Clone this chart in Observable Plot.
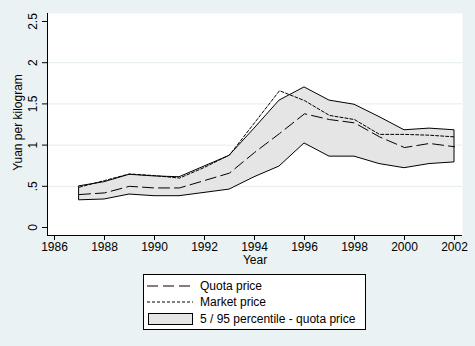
<!DOCTYPE html>
<html><head><meta charset="utf-8">
<script src="https://cdn.jsdelivr.net/npm/d3@7"></script>
<script src="https://cdn.jsdelivr.net/npm/@observablehq/plot@0.6"></script>
<style>
html,body{margin:0;padding:0;background:#EAF2F3;}
body{font-family:"Liberation Sans",Arial,sans-serif;}
#wrap{position:relative;width:475px;height:346px;overflow:hidden;background:#EAF2F3;}
#legend{position:absolute;left:143px;top:274px;}
</style>
</head><body>
<div id="wrap"><div id="chart"></div><div id="legend"></div></div>
<script>
const years  = [1987,1988,1989,1990,1991,1992,1993,1994,1995,1996,1997,1998,1999,2000,2001,2002];
const quota  = [0.40,0.42,0.50,0.48,0.48,0.57,0.66,0.91,1.14,1.38,1.31,1.27,1.10,0.97,1.02,0.98];
const market = [0.49,0.57,0.65,0.63,0.60,0.73,0.88,1.27,1.66,1.54,1.36,1.31,1.13,1.13,1.12,1.10];
const p95    = [0.50,0.55,0.64,0.62,0.61,0.74,0.87,1.20,1.54,1.70,1.54,1.49,1.34,1.18,1.20,1.18];
const p5     = [0.33,0.34,0.40,0.38,0.38,0.42,0.46,0.61,0.74,1.02,0.86,0.86,0.77,0.72,0.77,0.79];
const xTicks = [1986,1988,1990,1992,1994,1996,1998,2000,2002];
const yTicks = [0,0.5,1,1.5,2,2.5];
const yTickLabels = ["0",".5","1","1.5","2","2.5"];
const gridVals = [0.5,1,1.5,2];
const legendLabels = ["Quota price","Market price","5 / 95 percentile - quota price"];
const xTitle = "Year";
const yTitle = "Yuan per kilogram";

const data = years.map((y,i)=>({year:y, quota:quota[i], market:market[i], lo:p5[i], hi:p95[i]}));
const xDom = [1985.72, 2002.32];
const yDom = [-0.097, 2.597];
const font = "'Liberation Sans', Arial, sans-serif";

const chart = Plot.plot({
  width:475, height:270,
  marginLeft:47, marginRight:13, marginTop:13, marginBottom:35,
  style:{background:"transparent", fontFamily:font, fontSize:"12px", color:"black"},
  x:{type:"linear", domain:xDom, axis:null},
  y:{type:"linear", domain:yDom, axis:null},
  marks:[
    Plot.frame({fill:"white", stroke:"none"}),
    Plot.ruleY(gridVals, {y:d=>d, stroke:"#E3EDF0", strokeWidth:1}),
    Plot.areaY(data, {x:"year", y1:"lo", y2:"hi", fill:"#E5E5E5", stroke:"black", strokeWidth:1}),
    Plot.lineY(data, {x:"year", y:"quota", stroke:"black", strokeWidth:1, strokeDasharray:"11,5"}),
    Plot.lineY(data, {x:"year", y:"market", stroke:"black", strokeWidth:1, strokeDasharray:"3,2"}),
    Plot.ruleX([xDom[0]], {x:d=>d, stroke:"black"}),
    Plot.ruleY([yDom[0]], {y:d=>d, stroke:"black"}),
    Plot.axisX({ticks:xTicks, tickFormat:"d", tickSize:5, tickPadding:2, label:null, anchor:"bottom", fontSize:12}),
    Plot.axisY({ticks:yTicks, tickSize:5, label:null, anchor:"left", text:null}),
    Plot.text(yTicks, {x:xDom[0], y:d=>d, text:(d,i)=>yTickLabels[i], rotate:-90, dx:-14, textAnchor:"middle", lineAnchor:"middle", fontSize:12}),
    Plot.text([yTitle], {frameAnchor:"left", dx:-29, dy:-2, rotate:-90, textAnchor:"middle", lineAnchor:"middle", fontSize:12}),
    Plot.text([xTitle], {frameAnchor:"bottom", dy:20, lineAnchor:"top", textAnchor:"middle", fontSize:12})
  ]
});
document.getElementById("chart").appendChild(chart);

// legend
const lg = d3.select("#legend").append("svg").attr("width",223).attr("height",56)
  .style("font-family", font).style("font-size","12px");
lg.append("rect").attr("x",0.5).attr("y",0.5).attr("width",222).attr("height",55)
  .attr("fill","white").attr("stroke","black");
const rowsY = [12, 28, 45];
lg.append("line").attr("x1",4).attr("x2",50).attr("y1",rowsY[0]).attr("y2",rowsY[0])
  .attr("stroke","black").attr("stroke-dasharray","11,5");
lg.append("line").attr("x1",4).attr("x2",50).attr("y1",rowsY[1]).attr("y2",rowsY[1])
  .attr("stroke","black").attr("stroke-dasharray","3,2");
lg.append("rect").attr("x",5.5).attr("y",rowsY[2]-5.5).attr("width",44).attr("height",11)
  .attr("fill","#E5E5E5").attr("stroke","black");
legendLabels.forEach((t,i)=>{
  lg.append("text").attr("x",57).attr("y",rowsY[i]).attr("dy","0.35em").attr("fill","black").text(t);
});
</script>
</body></html>
